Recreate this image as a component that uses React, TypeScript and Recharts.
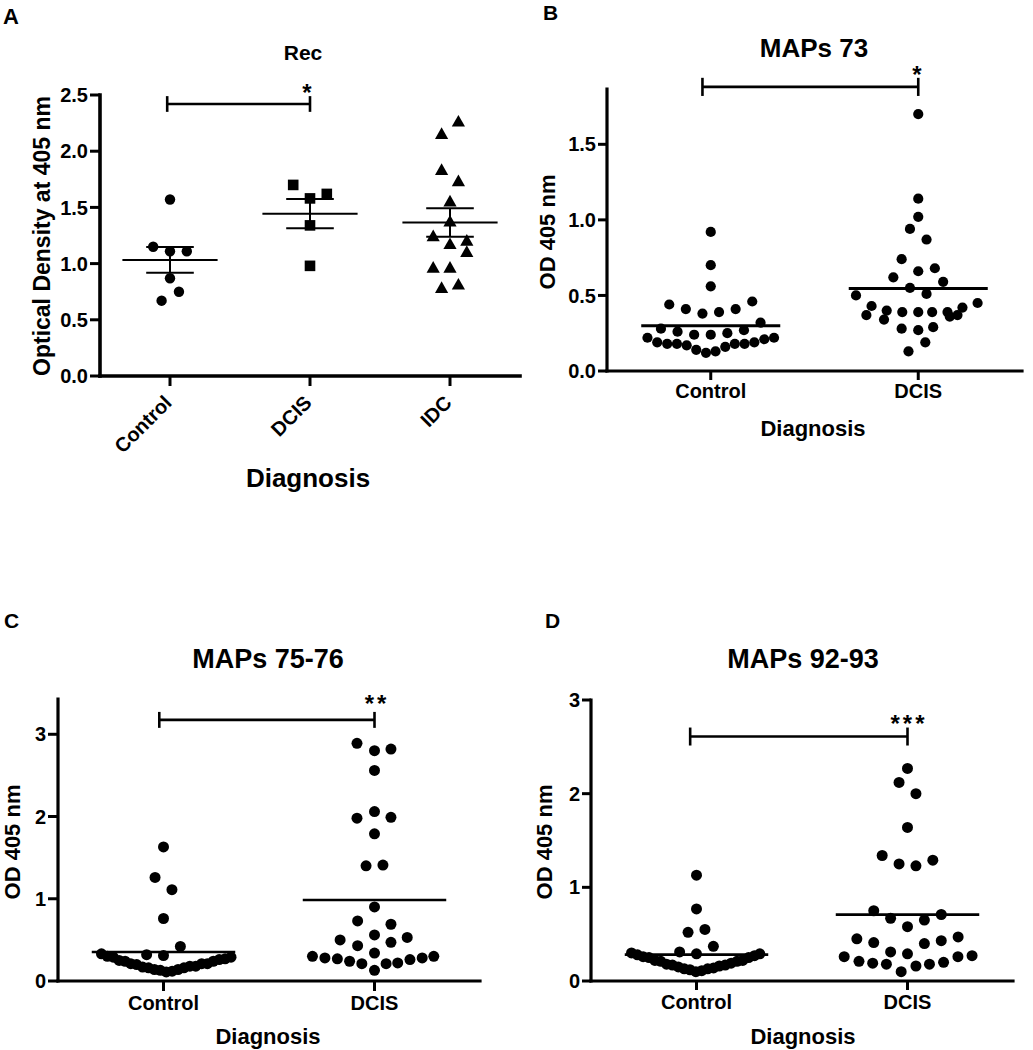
import React from 'react';
import { ScatterChart, Scatter, XAxis, YAxis, ReferenceLine } from 'recharts';

const FONT = '"Liberation Sans", Arial, Helvetica, sans-serif';

// ---------- Panel A: Rec ----------
const recCategories = ['Control', 'DCIS', 'IDC'];
const recYTicks = [0, 0.5, 1, 1.5, 2, 2.5];
const recControl = [1.57, 1.15, 1.11, 1.11, 0.87, 0.75, 0.67];
const recControlJitter = [0, -0.12, 0, 0.12, 0, 0.064, -0.06];
const recDcis = [1.7, 1.62, 1.58, 1.34, 0.98];
const recDcisJitter = [-0.12, 0.12, 0, 0, 0];
const recIdc = [2.26, 2.15, 1.83, 1.73, 1.55, 1.37, 1.24, 1.17, 1.2, 1.1, 0.96, 0.96, 0.78, 0.81];
const recIdcJitter = [0.06, -0.06, -0.06, 0.06, 0, 0, -0.12, 0, 0.12, 0.12, -0.12, 0, -0.06, 0.06];
const recBracket = { from: -0.02, to: 1, y: 2.42, cap: 0.07 };

// ---------- Panel B: MAPs 73 ----------
const twoCategories = ['Control', 'DCIS'];
const m73YTicks = [0, 0.5, 1, 1.5];
const m73Control = [0.92, 0.7, 0.56, 0.44, 0.41, 0.38, 0.39, 0.41, 0.46, 0.28, 0.26, 0.24, 0.24, 0.25, 0.27, 0.32, 0.22, 0.19, 0.18, 0.18, 0.17, 0.14, 0.12, 0.13, 0.16, 0.18, 0.18, 0.19, 0.21, 0.22];
const m73ControlJitter = [0, 0, 0, -0.2, -0.12, -0.04, 0.04, 0.12, 0.2, -0.24, -0.16, -0.08, 0, 0.08, 0.16, 0.24, -0.305, -0.258, -0.21, -0.163, -0.116, -0.07, -0.023, 0.023, 0.07, 0.116, 0.163, 0.21, 0.258, 0.305];
const m73Dcis = [1.7, 1.14, 1.02, 0.94, 0.87, 0.74, 0.66, 0.68, 0.62, 0.59, 0.55, 0.51, 0.5, 0.43, 0.37, 0.4, 0.34, 0.39, 0.39, 0.39, 0.39, 0.36, 0.42, 0.37, 0.45, 0.28, 0.27, 0.29, 0.19, 0.13];
const m73DcisJitter = [0, 0, 0, -0.04, 0.04, -0.08, 0, 0.08, -0.12, 0.12, -0.04, 0.04, -0.3, -0.225, -0.25, -0.152, -0.165, -0.077, 0, 0.067, 0.141, 0.152, 0.213, 0.189, 0.286, -0.08, 0, 0.072, 0.034, -0.047];
const m73Bracket = { from: -0.04, to: 1, y: 1.88, cap: 0.06 };

// ---------- Panel C: MAPs 75-76 ----------
const m7576YTicks = [0, 1, 2, 3];
const m7576Control = [1.63, 1.26, 1.11, 0.76, 0.42, 0.32, 0.31, 0.33, 0.3, 0.29, 0.25, 0.24, 0.21, 0.2, 0.17, 0.16, 0.14, 0.13, 0.11, 0.12, 0.14, 0.16, 0.18, 0.18, 0.21, 0.21, 0.24, 0.26, 0.27, 0.29];
const m7576ControlJitter = [0, -0.04, 0.04, 0, 0.08, -0.08, 0, -0.294, -0.266, -0.238, -0.21, -0.182, -0.155, -0.127, -0.099, -0.071, -0.043, -0.015, 0.013, 0.041, 0.069, 0.097, 0.125, 0.153, 0.181, 0.208, 0.236, 0.264, 0.292, 0.32];
const m7576Dcis = [2.89, 2.8, 2.82, 2.56, 2.06, 1.98, 1.99, 1.79, 1.4, 1.41, 0.9, 0.73, 0.69, 0.5, 0.56, 0.53, 0.43, 0.47, 0.34, 0.3, 0.28, 0.27, 0.24, 0.21, 0.13, 0.21, 0.22, 0.26, 0.28, 0.3];
const m7576DcisJitter = [-0.083, 0, 0.078, 0, 0, -0.083, 0.078, 0, -0.04, 0.04, 0, -0.08, 0.078, -0.163, 0, 0.155, -0.08, 0.078, 0, -0.294, -0.235, -0.176, -0.118, -0.06, 0, 0.055, 0.11, 0.168, 0.226, 0.281];
const m7576Bracket = { from: -0.02, to: 1, y: 3.175, cap: 0.097 };

// ---------- Panel D: MAPs 92-93 ----------
const m9293YTicks = [0, 1, 2, 3];
const m9293Control = [1.13, 0.77, 0.52, 0.55, 0.37, 0.31, 0.29, 0.3, 0.28, 0.26, 0.25, 0.22, 0.21, 0.18, 0.17, 0.15, 0.13, 0.12, 0.1, 0.11, 0.13, 0.14, 0.16, 0.17, 0.19, 0.21, 0.22, 0.25, 0.27, 0.29];
const m9293ControlJitter = [0, 0, -0.04, 0.04, 0.08, -0.08, 0, -0.308, -0.28, -0.253, -0.225, -0.197, -0.169, -0.142, -0.114, -0.086, -0.058, -0.031, -0.003, 0.025, 0.053, 0.081, 0.108, 0.136, 0.164, 0.192, 0.219, 0.247, 0.275, 0.3];
const m9293Dcis = [2.27, 2.12, 2.0, 1.64, 1.34, 1.25, 1.23, 1.29, 0.75, 0.71, 0.67, 0.65, 0.58, 0.45, 0.41, 0.4, 0.43, 0.47, 0.31, 0.29, 0.26, 0.21, 0.19, 0.18, 0.1, 0.16, 0.18, 0.2, 0.26, 0.27];
const m9293DcisJitter = [0, -0.04, 0.04, 0, -0.12, -0.04, 0.04, 0.12, -0.16, 0.16, -0.08, 0.08, 0, -0.24, -0.16, 0.08, 0.16, 0.24, -0.08, 0, -0.3, -0.23, -0.165, -0.1, -0.03, 0.04, 0.104, 0.171, 0.239, 0.306];
const m9293Bracket = { from: -0.03, to: 1, y: 2.61, cap: 0.096 };

// ---------- helpers ----------
const mean = (a: number[]) => a.reduce((s, v) => s + v, 0) / a.length;
const sem = (a: number[]) => {
  const m = mean(a);
  const sd = Math.sqrt(a.reduce((s, v) => s + (v - m) * (v - m), 0) / (a.length - 1));
  return sd / Math.sqrt(a.length);
};
const toPoints = (vals: number[], jitter: number[], cat: number) =>
  vals.map((v, i) => ({ x: cat + jitter[i], y: v }));

const circleShape = (r: number) => (p: any) => <circle cx={p.cx} cy={p.cy} r={r} fill="#000" />;
const squareShape = (p: any) => (
  <rect x={p.cx - 5.3} y={p.cy - 5.3} width={10.6} height={10.6} fill="#000" />
);
const triangleShape = (p: any) => (
  <polygon
    points={`${p.cx},${p.cy - 7} ${p.cx - 6.6},${p.cy + 4.6} ${p.cx + 6.6},${p.cy + 4.6}`}
    fill="#000"
  />
);

type Group = { values: number[]; jitter: number[]; cat: number; shape: any };
type PanelProps = {
  left: number;
  top: number;
  width: number;
  height: number;
  margin: { top: number; right: number; bottom: number; left: number };
  yWidth: number;
  xHeight: number;
  yDomain: [number, number];
  yTicks: number[];
  yDigits: number;
  categories: string[];
  groups: Group[];
  meanHalf: number;
  meanStroke: number;
  semHalf?: number;
  bracket: { from: number; to: number; y: number; cap: number };
  rotated?: boolean;
  axisStroke: number;
  tickSize: number;
  xTickMargin: number;
};

function Panel(props: PanelProps) {
  const {
    left, top, width, height, margin, yWidth, xHeight, yDomain, yTicks, yDigits,
    categories, groups, meanHalf, meanStroke, semHalf, bracket, rotated, axisStroke,
    tickSize, xTickMargin,
  } = props;
  const xTicks = categories.map((_, i) => i);
  const tickStyle = { fill: '#000', fontSize: 20, fontWeight: 700, fontFamily: FONT };
  const rotatedTick = (p: any) => {
    const x = p.x + 3;
    const y = p.y + 16;
    return (
      <text
        x={x}
        y={y}
        transform={`rotate(-45, ${x}, ${y})`}
        textAnchor="end"
        fill="#000"
        fontSize={20}
        fontWeight={700}
        fontFamily={FONT}
      >
        {categories[p.payload.value]}
      </text>
    );
  };
  const lines: React.ReactNode[] = [];
  groups.forEach((g, gi) => {
    const m = mean(g.values);
    lines.push(
      <ReferenceLine
        key={`mean${gi}`}
        segment={[{ x: g.cat - meanHalf, y: m }, { x: g.cat + meanHalf, y: m }]}
        stroke="#000"
        strokeWidth={meanStroke}
        ifOverflow="visible"
      />
    );
    if (semHalf) {
      const s = sem(g.values);
      lines.push(
        <ReferenceLine key={`semv${gi}`} segment={[{ x: g.cat, y: m - s }, { x: g.cat, y: m + s }]} stroke="#000" strokeWidth={2} ifOverflow="visible" />,
        <ReferenceLine key={`semu${gi}`} segment={[{ x: g.cat - semHalf, y: m + s }, { x: g.cat + semHalf, y: m + s }]} stroke="#000" strokeWidth={2} ifOverflow="visible" />,
        <ReferenceLine key={`seml${gi}`} segment={[{ x: g.cat - semHalf, y: m - s }, { x: g.cat + semHalf, y: m - s }]} stroke="#000" strokeWidth={2} ifOverflow="visible" />
      );
    }
  });
  const b = bracket;
  lines.push(
    <ReferenceLine key="bh" segment={[{ x: b.from, y: b.y }, { x: b.to, y: b.y }]} stroke="#000" strokeWidth={2.6} ifOverflow="visible" />,
    <ReferenceLine key="bl" segment={[{ x: b.from, y: b.y - b.cap }, { x: b.from, y: b.y + b.cap }]} stroke="#000" strokeWidth={2.6} ifOverflow="visible" />,
    <ReferenceLine key="br" segment={[{ x: b.to, y: b.y - b.cap }, { x: b.to, y: b.y + b.cap }]} stroke="#000" strokeWidth={2.6} ifOverflow="visible" />
  );
  return (
    <div style={{ position: 'absolute', left, top }}>
      <ScatterChart width={width} height={height} margin={margin}>
        <XAxis
          type="number"
          dataKey="x"
          domain={[-0.5, categories.length - 0.5]}
          ticks={xTicks}
          interval={0}
          allowDataOverflow
          height={xHeight}
          tickSize={tickSize}
          tickMargin={xTickMargin}
          axisLine={{ stroke: '#000', strokeWidth: axisStroke, strokeLinecap: 'square' }}
          tickLine={{ stroke: '#000', strokeWidth: 3 }}
          tickFormatter={(v: number) => categories[v]}
          tick={rotated ? rotatedTick : tickStyle}
        />
        <YAxis
          type="number"
          dataKey="y"
          domain={yDomain}
          ticks={yTicks}
          interval={0}
          allowDataOverflow
          width={yWidth}
          tickSize={tickSize}
          tickMargin={2}
          axisLine={{ stroke: '#000', strokeWidth: axisStroke, strokeLinecap: 'square' }}
          tickLine={{ stroke: '#000', strokeWidth: 3 }}
          tickFormatter={(v: number) => v.toFixed(yDigits)}
          tick={tickStyle}
        />
        {groups.map((g, gi) => (
          <Scatter
            key={gi}
            data={toPoints(g.values, g.jitter, g.cat)}
            shape={g.shape}
            isAnimationActive={false}
          />
        ))}
        {lines}
      </ScatterChart>
    </div>
  );
}

type Label = { text: string; x: number; y: number; size: number; anchor?: string; rotate?: boolean; spacing?: number };
const labels: Label[] = [
  { text: 'A', x: 3, y: 24, size: 22, anchor: 'start' },
  { text: 'Rec', x: 303, y: 60, size: 21 },
  { text: 'Optical Density at 405 nm', x: 50, y: 236, size: 23, rotate: true },
  { text: 'Diagnosis', x: 308, y: 487, size: 26 },
  { text: 'B', x: 543, y: 20, size: 21, anchor: 'start' },
  { text: 'MAPs 73', x: 814, y: 57, size: 26 },
  { text: 'OD 405 nm', x: 555, y: 232, size: 22, rotate: true },
  { text: 'Diagnosis', x: 813, y: 436, size: 22 },
  { text: 'C', x: 4, y: 628, size: 21, anchor: 'start' },
  { text: 'MAPs 75-76', x: 268, y: 668, size: 27 },
  { text: 'OD 405 nm', x: 20, y: 842, size: 22, rotate: true },
  { text: 'Diagnosis', x: 268, y: 1044, size: 22 },
  { text: 'D', x: 545, y: 628, size: 21, anchor: 'start' },
  { text: 'MAPs 92-93', x: 803, y: 668, size: 27 },
  { text: 'OD 405 nm', x: 552, y: 842, size: 22, rotate: true },
  { text: 'Diagnosis', x: 803, y: 1044, size: 22 },
  { text: '*', x: 307, y: 101, size: 24 },
  { text: '*', x: 917, y: 83, size: 24 },
  { text: '**', x: 377, y: 712, size: 24, spacing: 3 },
  { text: '***', x: 909, y: 732, size: 24, spacing: 3 },
];

export default function App() {
  return (
    <div style={{ position: 'absolute', left: 0, top: 0, width: 1033, height: 1050, background: '#fff', overflow: 'hidden' }}>
      <Panel
        left={0} top={0} width={530} height={520}
        margin={{ top: 95, right: 10, bottom: 84, left: 40 }}
        yWidth={60} xHeight={60}
        yDomain={[0, 2.5]} yTicks={recYTicks} yDigits={1}
        categories={recCategories}
        groups={[
          { values: recControl, jitter: recControlJitter, cat: 0, shape: circleShape(5.2) },
          { values: recDcis, jitter: recDcisJitter, cat: 1, shape: squareShape },
          { values: recIdc, jitter: recIdcJitter, cat: 2, shape: triangleShape },
        ]}
        meanHalf={0.34} meanStroke={2} semHalf={0.17}
        bracket={recBracket}
        rotated axisStroke={3.6} tickSize={10} xTickMargin={2}
      />
      <Panel
        left={530} top={0} width={503} height={480}
        margin={{ top: 89, right: 11, bottom: 69, left: 17 }}
        yWidth={60} xHeight={40}
        yDomain={[0, 1.866]} yTicks={m73YTicks} yDigits={1}
        categories={twoCategories}
        groups={[
          { values: m73Control, jitter: m73ControlJitter, cat: 0, shape: circleShape(5.1) },
          { values: m73Dcis, jitter: m73DcisJitter, cat: 1, shape: circleShape(5.1) },
        ]}
        meanHalf={0.335} meanStroke={3}
        bracket={m73Bracket}
        axisStroke={3.2} tickSize={9} xTickMargin={4}
      />
      <Panel
        left={0} top={540} width={500} height={510}
        margin={{ top: 159, right: 20, bottom: 29, left: 18 }}
        yWidth={40} xHeight={40}
        yDomain={[0, 3.429]} yTicks={m7576YTicks} yDigits={0}
        categories={twoCategories}
        groups={[
          { values: m7576Control, jitter: m7576ControlJitter, cat: 0, shape: circleShape(5.5) },
          { values: m7576Dcis, jitter: m7576DcisJitter, cat: 1, shape: circleShape(5.5) },
        ]}
        meanHalf={0.34} meanStroke={2.6}
        bracket={m7576Bracket}
        axisStroke={3.2} tickSize={10} xTickMargin={5}
      />
      <Panel
        left={520} top={540} width={513} height={510}
        margin={{ top: 160, right: 20, bottom: 29, left: 31 }}
        yWidth={40} xHeight={40}
        yDomain={[0, 3]} yTicks={m9293YTicks} yDigits={0}
        categories={twoCategories}
        groups={[
          { values: m9293Control, jitter: m9293ControlJitter, cat: 0, shape: circleShape(5.5) },
          { values: m9293Dcis, jitter: m9293DcisJitter, cat: 1, shape: circleShape(5.5) },
        ]}
        meanHalf={0.34} meanStroke={2.6}
        bracket={m9293Bracket}
        axisStroke={3.2} tickSize={9} xTickMargin={5}
      />
      <svg
        width={1033}
        height={1050}
        style={{ position: 'absolute', left: 0, top: 0, pointerEvents: 'none' }}
      >
        {labels.map((l, i) => (
          <text
            key={i}
            x={l.x}
            y={l.y}
            textAnchor={l.anchor || 'middle'}
            transform={l.rotate ? `rotate(-90, ${l.x}, ${l.y})` : undefined}
            fontFamily={FONT}
            fontWeight={700}
            fontSize={l.size}
            letterSpacing={l.spacing || 0}
            fill="#000"
          >
            {l.text}
          </text>
        ))}
      </svg>
    </div>
  );
}
